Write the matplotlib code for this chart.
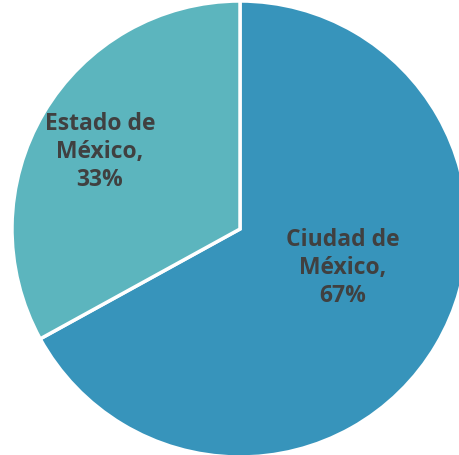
import matplotlib
matplotlib.use("Agg")
import matplotlib.pyplot as plt

categories = ["Ciudad de\nMéxico", "Estado de\nMéxico"]
shares = [67, 33]
colors = ["#3794BB", "#5CB5BE"]

W, H = 460, 456
fig = plt.figure(figsize=(W / 100, H / 100), dpi=100)
ax = fig.add_axes([0, 0, 1, 1])

cx, cy, R = 240, H - 230, 228
wedges, _ = ax.pie(shares, colors=colors, startangle=90, counterclock=False,
                   center=(cx, cy), radius=R, frame=True,
                   wedgeprops=dict(edgecolor="white", linewidth=2.5))
ax.set_xlim(0, W)
ax.set_ylim(0, H)
ax.set_aspect("equal")
ax.axis("off")

label_pos = [(343, H - 268), (100, H - 152)]
for cat, val, (x, y) in zip(categories, shares, label_pos):
    ax.text(x, y, f"{cat},\n{val}%", ha="center", va="center",
            fontsize=16.5, fontweight="bold", color="#404040",
            family="Open Sans", linespacing=1.2)

fig.savefig("out.png", dpi=100)
